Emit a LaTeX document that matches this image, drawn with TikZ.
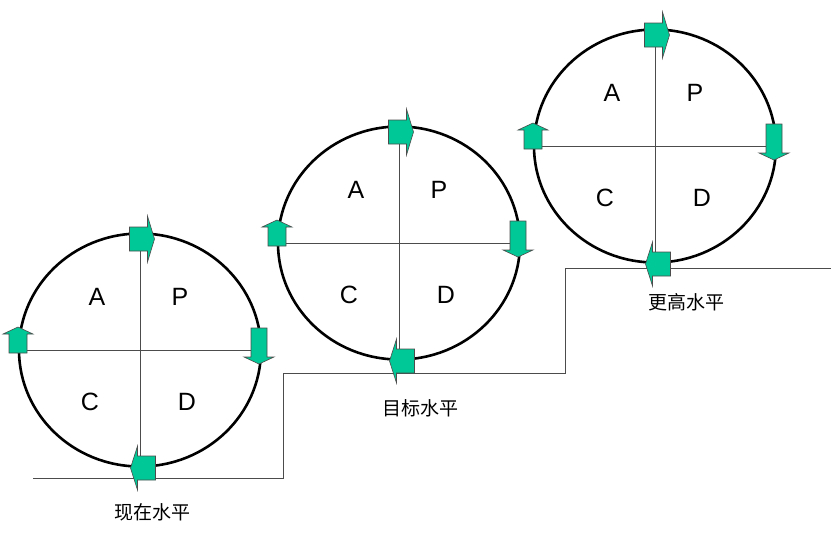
\documentclass[tikz,border=0pt]{standalone}
\usepackage{fontspec}
\setmainfont{Liberation Sans}
\newfontfamily\cjk{Noto Sans CJK SC}
\usetikzlibrary{shapes.geometric}
\definecolor{pdcagreen}{RGB}{0,200,150}
\tikzset{
  ring/.style={draw,line width=2.6pt},
  cross/.style={draw=black!70,line width=0.9pt},
  quad/.style={font=\fontsize{25}{25}\selectfont,inner sep=0pt},
  caption/.style={font=\cjk\fontsize{19}{19}\selectfont,inner sep=0pt},
  stair/.style={draw=black!70,line width=1pt},
  blockarr/.style={fill=pdcagreen,draw=black!70,line width=0.6pt}
}
% block arrow: x, y, angle, body length, body half width, head length, head half width
\newcommand\blkarrow[7]{%
  \begin{scope}[shift={(#1,#2)},rotate=#3]
    \path[blockarr] (-#4/2-#6/2,-#5) -- (#4/2-#6/2,-#5) -- (#4/2-#6/2,-#7)
      -- (#4/2+#6/2,0) -- (#4/2-#6/2,#7) -- (#4/2-#6/2,#5) -- (-#4/2-#6/2,#5) -- cycle;
  \end{scope}}
\begin{document}
\begin{tikzpicture}[x=1pt,y=-1pt]
\useasboundingbox (0,0) rectangle (831,547);
% steps
\draw[stair] (33,478) -- (283,478) -- (283,373) -- (565,373) -- (565,268) -- (831,268);
\foreach \n/\cx/\cy in {one/140/350, two/399/243, three/655/146}{
  \node[ellipse,inner sep=0pt,minimum width=242pt,minimum height=233pt] (\n) at (\cx,\cy) {};
  \draw[cross] (\n.west) -- (\n.east);
  \draw[cross] (\n.north) -- (\n.south);
  \draw[ring] (\n.center) ellipse[x radius=121pt,y radius=116.5pt];
  \node[quad] (\n A) at (\cx-43,\cy-53) {A};
  \node[quad] (\n P) at (\cx+40,\cy-53) {P};
  \node[quad] (\n C) at (\cx-50,\cy+52) {C};
  \node[quad] (\n D) at (\cx+47,\cy+52) {D};
  \blkarrow{\cx+2}{\cy-111}{0}{18}{12}{7}{23}
  \blkarrow{\cx+119}{\cy-4}{-90}{29}{8}{7}{15}
  \blkarrow{\cx-122}{\cy-10}{90}{19}{9}{7}{15}
  \blkarrow{\cx+3}{\cy+118}{180}{18}{12}{7}{22}
}
\node[caption] (low) at (152,512) {现在水平};
\node[caption] (mid) at (420,408) {目标水平};
\node[caption] (high) at (686,302) {更高水平};
\end{tikzpicture}
\end{document}
